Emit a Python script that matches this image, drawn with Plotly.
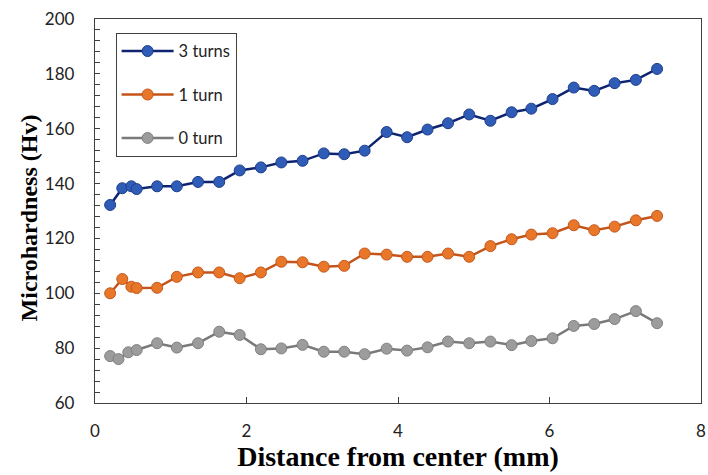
import plotly.graph_objects as go

# Data
x_3turns = [0.20, 0.36, 0.48, 0.55, 0.82, 1.08, 1.36, 1.64, 1.91, 2.19, 2.46, 2.74, 3.02, 3.29, 3.56,
            3.85, 4.12, 4.39, 4.66, 4.94, 5.22, 5.50, 5.76, 6.04, 6.32, 6.59, 6.86, 7.14, 7.42]
y_3turns = [132.2, 138.3, 139.0, 138.0, 139.0, 139.0, 140.6, 140.6, 144.8, 145.9, 147.7, 148.3, 151.0, 150.7, 152.0,
            158.8, 156.9, 159.7, 162.0, 165.2, 162.9, 166.0, 167.3, 170.8, 175.0, 173.8, 176.6, 177.8, 181.8]

x_1turn = [0.20, 0.36, 0.48, 0.55, 0.82, 1.08, 1.36, 1.64, 1.91, 2.19, 2.46, 2.74, 3.02, 3.29, 3.56,
           3.85, 4.12, 4.39, 4.66, 4.94, 5.22, 5.50, 5.76, 6.04, 6.32, 6.59, 6.86, 7.14, 7.42]
y_1turn = [100.0, 105.2, 102.4, 101.9, 102.0, 106.0, 107.6, 107.6, 105.5, 107.6, 111.5, 111.3, 109.7, 110.0, 114.5,
           114.1, 113.3, 113.3, 114.5, 113.3, 117.2, 119.7, 121.4, 121.9, 124.8, 123.0, 124.3, 126.6, 128.2]

x_0turn = [0.20, 0.31, 0.44, 0.55, 0.82, 1.08, 1.36, 1.64, 1.91, 2.19, 2.46, 2.74, 3.02, 3.29, 3.56,
           3.85, 4.12, 4.39, 4.66, 4.94, 5.22, 5.50, 5.76, 6.04, 6.32, 6.59, 6.86, 7.14, 7.42]
y_0turn = [77.1, 76.0, 78.5, 79.3, 81.8, 80.2, 81.8, 86.0, 84.8, 79.6, 79.9, 81.2, 78.7, 78.7, 77.8,
           79.8, 79.1, 80.3, 82.4, 81.8, 82.4, 81.1, 82.6, 83.6, 88.1, 88.8, 90.6, 93.5, 89.1]

x_ticks = [0, 2, 4, 6, 8]
y_ticks = [60, 80, 100, 120, 140, 160, 180, 200]

series = [
    ("3 turns", x_3turns, y_3turns, "#0F2470", "#2F5CB6", "#1E3E8C"),
    ("1 turn", x_1turn, y_1turn, "#C4541A", "#E8772A", "#C4581C"),
    ("0 turn", x_0turn, y_0turn, "#7A7A7A", "#9C9C9C", "#808080"),
]

fig = go.Figure()
for i, (name, xs, ys, lc, mc, mlc) in enumerate(series):
    fig.add_trace(go.Scatter(
        x=xs, y=ys, name=name, mode="lines+markers",
        line=dict(color=lc, width=2.5),
        marker=dict(size=11, color=mc, line=dict(color=mlc, width=1)),
        legendgroup=f"g{i}",
    ))

tick_font = dict(family="Lato, Carlito, sans-serif", size=17, color="#222222")

fig.update_layout(
    width=708, height=475,
    margin=dict(l=95, r=2, t=19, b=72),
    paper_bgcolor="white", plot_bgcolor="white",
    showlegend=True,
    legend=dict(
        x=0.034, y=0.964, xanchor="left", yanchor="top",
        bordercolor="#404040", borderwidth=1, bgcolor="white",
        font=dict(family="Lato, Carlito, sans-serif", size=16.5, color="#222222"),
        tracegroupgap=19, itemwidth=52,
    ),
    xaxis=dict(
        range=[0, 8], tickvals=x_ticks, ticktext=[str(v) for v in x_ticks],
        showgrid=False, zeroline=False,
        showline=True, linecolor="#404040", linewidth=1.3, mirror=True,
        ticks="inside", ticklen=6, tickcolor="#404040",
        tickfont=tick_font, ticklabelstandoff=12, ticklabeloverflow="allow",
        title=dict(text="<b>Distance from center (mm)</b>",
                   font=dict(family="Liberation Serif, Times New Roman, serif", size=28, color="#000000"),
                   standoff=1),
    ),
    yaxis=dict(
        range=[60, 200], tickvals=y_ticks, ticktext=[str(v) for v in y_ticks],
        showgrid=False, zeroline=False,
        showline=True, linecolor="#404040", linewidth=1.3, mirror=True,
        ticks="inside", ticklen=5, tickcolor="#404040",
        minor=dict(dtick=4, tick0=60, ticks="inside", ticklen=5, tickcolor="#404040", showgrid=False),
        tickfont=tick_font, ticklabelstandoff=16,
    ),
    annotations=[dict(
        text="<b>Microhardness (Hv)</b>", textangle=-90,
        xref="paper", yref="paper", x=-0.1097, y=0.482,
        xanchor="center", yanchor="middle", showarrow=False,
        font=dict(family="Liberation Serif, Times New Roman, serif", size=24, color="#000000"),
    )],
)

fig.write_html("out.html")
